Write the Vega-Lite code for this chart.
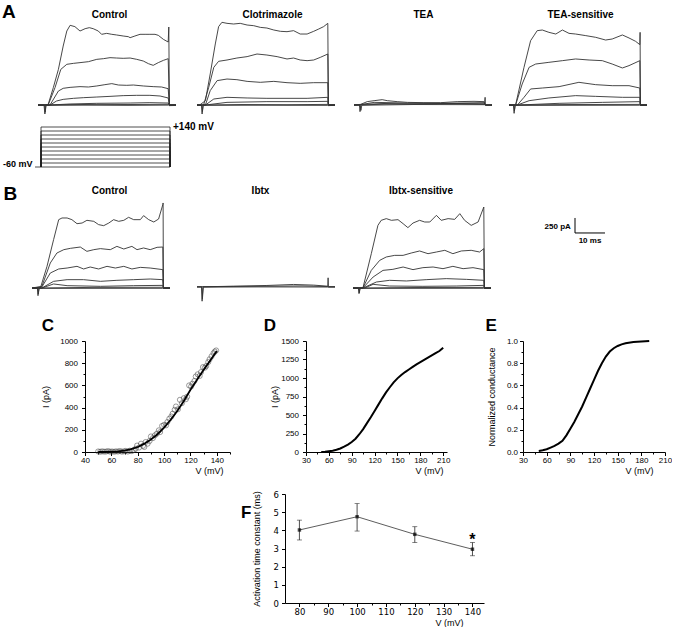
{
"$schema": "https://vega.github.io/schema/vega-lite/v6.json",
"padding": {"left": 2, "top": 2, "right": 0, "bottom": 0},
"spacing": 0,
"config": {
  "view": {"stroke": null},
  "font": "Liberation Sans",
  "title": {"fontSize": 10, "fontWeight": "bold", "color": "black", "font": "Liberation Sans"},
  "axis": {"grid": false, "domainColor": "black", "tickColor": "black", "labelColor": "black", "titleColor": "black", "labelFontSize": 8, "titleFontSize": 9, "titleFontWeight": "normal", "tickSize": 3, "labelPadding": 4, "labelFlush": false, "labelOverlap": false, "labelFont": "Liberation Sans", "titleFont": "Liberation Sans", "domainWidth": 1, "tickWidth": 1}
},
"datasets": {
"AC": [
{"s":1,"t":0,"i":0},{"s":1,"t":2.3,"i":0},{"s":1,"t":3.4,"i":11},{"s":1,"t":5.1,"i":289},{"s":1,"t":6.8,"i":594},{"s":1,"t":8.4,"i":983},{"s":1,"t":9.6,"i":1233},{"s":1,"t":10.7,"i":1328},{"s":1,"t":12.3,"i":1306},{"s":1,"t":14.0,"i":1233},{"s":1,"t":15.7,"i":1272},{"s":1,"t":17.1,"i":1289},{"s":1,"t":18.4,"i":1272},{"s":1,"t":20.1,"i":1233},{"s":1,"t":21.2,"i":1178},{"s":1,"t":22.9,"i":1194},{"s":1,"t":24.6,"i":1178},{"s":1,"t":26.2,"i":1167},{"s":1,"t":28.4,"i":1150},{"s":1,"t":30.1,"i":1139},{"s":1,"t":30.7,"i":1122},{"s":1,"t":32.3,"i":1150},{"s":1,"t":34.0,"i":1178},{"s":1,"t":35.7,"i":1178},{"s":1,"t":37.3,"i":1178},{"s":1,"t":39.0,"i":1178},{"s":1,"t":40.1,"i":1161},{"s":1,"t":41.8,"i":1094},{"s":1,"t":43.4,"i":1050},{"s":1,"t":43.6,"i":1300},{"s":1,"t":43.8,"i":0},{"s":1,"t":46,"i":0},
{"s":2,"t":0,"i":0},{"s":2,"t":3.4,"i":0},{"s":2,"t":5.7,"i":294},{"s":2,"t":7.6,"i":594},{"s":2,"t":9.6,"i":678},{"s":2,"t":11.8,"i":694},{"s":2,"t":14.0,"i":706},{"s":2,"t":16.8,"i":722},{"s":2,"t":19.6,"i":761},{"s":2,"t":21.8,"i":772},{"s":2,"t":24.0,"i":789},{"s":2,"t":26.2,"i":783},{"s":2,"t":28.4,"i":778},{"s":2,"t":30.7,"i":783},{"s":2,"t":32.9,"i":761},{"s":2,"t":35.1,"i":733},{"s":2,"t":36.8,"i":689},{"s":2,"t":38.4,"i":661},{"s":2,"t":40.1,"i":706},{"s":2,"t":41.8,"i":744},{"s":2,"t":43.4,"i":772},{"s":2,"t":43.8,"i":0},{"s":2,"t":46,"i":0},
{"s":3,"t":0,"i":0},{"s":3,"t":4.0,"i":0},{"s":3,"t":6.8,"i":233},{"s":3,"t":8.4,"i":278},{"s":3,"t":10.7,"i":294},{"s":3,"t":14.0,"i":306},{"s":3,"t":16.8,"i":300},{"s":3,"t":19.6,"i":317},{"s":3,"t":22.3,"i":339},{"s":3,"t":24.6,"i":356},{"s":3,"t":26.8,"i":333},{"s":3,"t":29.6,"i":328},{"s":3,"t":31.8,"i":333},{"s":3,"t":35.1,"i":317},{"s":3,"t":38.4,"i":306},{"s":3,"t":41.2,"i":300},{"s":3,"t":43.4,"i":272},{"s":3,"t":43.8,"i":0},{"s":3,"t":46,"i":0},
{"s":4,"t":0,"i":0},{"s":4,"t":4.0,"i":0},{"s":4,"t":6.2,"i":67},{"s":4,"t":8.4,"i":94},{"s":4,"t":11.8,"i":111},{"s":4,"t":15.1,"i":122},{"s":4,"t":19.6,"i":133},{"s":4,"t":24.0,"i":144},{"s":4,"t":28.4,"i":156},{"s":4,"t":32.9,"i":161},{"s":4,"t":37.3,"i":161},{"s":4,"t":40.7,"i":150},{"s":4,"t":43.4,"i":117},{"s":4,"t":43.8,"i":0},{"s":4,"t":46,"i":0},
{"s":5,"t":0,"i":0},{"s":5,"t":4,"i":0},{"s":5,"t":10.7,"i":17},{"s":5,"t":19.6,"i":28},{"s":5,"t":30.7,"i":33},{"s":5,"t":37.3,"i":39},{"s":5,"t":43.4,"i":33},{"s":5,"t":43.8,"i":0},{"s":5,"t":46,"i":0},
{"s":6,"t":0,"i":0},{"s":6,"t":2.0,"i":0},{"s":6,"t":2.3,"i":-150},{"s":6,"t":2.6,"i":0},{"s":6,"t":10,"i":6},{"s":6,"t":20,"i":10},{"s":6,"t":30,"i":8},{"s":6,"t":43.5,"i":12},{"s":6,"t":43.8,"i":0},{"s":6,"t":46,"i":0},
{"s":7,"t":0,"i":-8},{"s":7,"t":2.2,"i":-8},{"s":7,"t":2.4,"i":-120},{"s":7,"t":2.7,"i":-5},{"s":7,"t":15,"i":-3},{"s":7,"t":30,"i":-6},{"s":7,"t":43.5,"i":-2},{"s":7,"t":43.8,"i":-10},{"s":7,"t":46,"i":-8}
],
"AClo": [
{"s":1,"t":0,"i":0},{"s":1,"t":0.9,"i":0},{"s":1,"t":2.8,"i":72},{"s":1,"t":4.4,"i":517},{"s":1,"t":6.1,"i":1017},{"s":1,"t":7.2,"i":1306},{"s":1,"t":8.3,"i":1378},{"s":1,"t":10.0,"i":1361},{"s":1,"t":12.2,"i":1350},{"s":1,"t":14.4,"i":1361},{"s":1,"t":16.7,"i":1333},{"s":1,"t":18.9,"i":1322},{"s":1,"t":21.1,"i":1294},{"s":1,"t":23.3,"i":1283},{"s":1,"t":25.6,"i":1250},{"s":1,"t":27.8,"i":1228},{"s":1,"t":30.0,"i":1222},{"s":1,"t":32.2,"i":1239},{"s":1,"t":34.4,"i":1183},{"s":1,"t":36.7,"i":1183},{"s":1,"t":38.9,"i":1228},{"s":1,"t":40.6,"i":1267},{"s":1,"t":42.2,"i":1306},{"s":1,"t":43.6,"i":1361},{"s":1,"t":43.8,"i":0},{"s":1,"t":46,"i":0},
{"s":2,"t":0,"i":0},{"s":2,"t":2.2,"i":0},{"s":2,"t":3.9,"i":294},{"s":2,"t":5.6,"i":628},{"s":2,"t":7.2,"i":728},{"s":2,"t":10.0,"i":750},{"s":2,"t":13.3,"i":783},{"s":2,"t":16.7,"i":806},{"s":2,"t":20.0,"i":850},{"s":2,"t":23.3,"i":833},{"s":2,"t":26.7,"i":806},{"s":2,"t":30.0,"i":767},{"s":2,"t":32.2,"i":783},{"s":2,"t":34.4,"i":750},{"s":2,"t":36.7,"i":739},{"s":2,"t":38.9,"i":750},{"s":2,"t":41.1,"i":794},{"s":2,"t":43.6,"i":850},{"s":2,"t":43.8,"i":0},{"s":2,"t":46,"i":0},
{"s":3,"t":0,"i":0},{"s":3,"t":2.8,"i":0},{"s":3,"t":4.4,"i":239},{"s":3,"t":6.7,"i":406},{"s":3,"t":10,"i":433},{"s":3,"t":13.3,"i":422},{"s":3,"t":16.7,"i":394},{"s":3,"t":21.1,"i":378},{"s":3,"t":25.6,"i":394},{"s":3,"t":30,"i":372},{"s":3,"t":34.4,"i":361},{"s":3,"t":38.9,"i":372},{"s":3,"t":43.6,"i":372},{"s":3,"t":43.8,"i":0},{"s":3,"t":46,"i":0},
{"s":4,"t":0,"i":0},{"s":4,"t":2.8,"i":0},{"s":4,"t":5.6,"i":100},{"s":4,"t":10,"i":128},{"s":4,"t":16.7,"i":117},{"s":4,"t":23.3,"i":111},{"s":4,"t":30,"i":111},{"s":4,"t":36.7,"i":111},{"s":4,"t":43.6,"i":128},{"s":4,"t":43.8,"i":0},{"s":4,"t":46,"i":0},
{"s":5,"t":0,"i":0},{"s":5,"t":2.8,"i":0},{"s":5,"t":10,"i":44},{"s":5,"t":23.3,"i":56},{"s":5,"t":36.7,"i":56},{"s":5,"t":43.6,"i":61},{"s":5,"t":43.8,"i":0},{"s":5,"t":46,"i":0},
{"s":6,"t":0,"i":0},{"s":6,"t":1.5,"i":0},{"s":6,"t":1.7,"i":-150},{"s":6,"t":2.0,"i":0},{"s":6,"t":15,"i":8},{"s":6,"t":30,"i":5},{"s":6,"t":43.5,"i":10},{"s":6,"t":43.8,"i":0},{"s":6,"t":46,"i":0},
{"s":7,"t":0,"i":-8},{"s":7,"t":1.6,"i":-8},{"s":7,"t":1.8,"i":-110},{"s":7,"t":2.1,"i":-5},{"s":7,"t":20,"i":-4},{"s":7,"t":43.6,"i":-6},{"s":7,"t":43.8,"i":-10},{"s":7,"t":46,"i":-6}
],
"ATEA": [
{"s":1,"t":0,"i":0},{"s":1,"t":2.2,"i":10},{"s":1,"t":4.4,"i":56},{"s":1,"t":6.7,"i":72},{"s":1,"t":9.4,"i":89},{"s":1,"t":11.1,"i":72},{"s":1,"t":14.4,"i":56},{"s":1,"t":17.8,"i":44},{"s":1,"t":23.3,"i":39},{"s":1,"t":28.9,"i":39},{"s":1,"t":34.4,"i":56},{"s":1,"t":40,"i":61},{"s":1,"t":43.3,"i":56},{"s":1,"t":43.8,"i":0},{"s":1,"t":46,"i":0},
{"s":2,"t":0,"i":0},{"s":2,"t":2.2,"i":5},{"s":2,"t":6.7,"i":44},{"s":2,"t":17.8,"i":33},{"s":2,"t":28.9,"i":28},{"s":2,"t":43.3,"i":39},{"s":2,"t":43.8,"i":0},{"s":2,"t":46,"i":0},
{"s":3,"t":0,"i":0},{"s":3,"t":1.8,"i":0},{"s":3,"t":2.0,"i":-111},{"s":3,"t":2.3,"i":0},{"s":3,"t":10,"i":15},{"s":3,"t":25,"i":20},{"s":3,"t":35,"i":25},{"s":3,"t":43.5,"i":15},{"s":3,"t":43.7,"i":128},{"s":3,"t":43.8,"i":0},{"s":3,"t":46,"i":0},
{"s":4,"t":0,"i":-6},{"s":4,"t":2.1,"i":-6},{"s":4,"t":2.3,"i":-90},{"s":4,"t":2.6,"i":-4},{"s":4,"t":20,"i":8},{"s":4,"t":43.5,"i":5},{"s":4,"t":43.8,"i":-5},{"s":4,"t":46,"i":-5},
{"s":5,"t":0,"i":5},{"s":5,"t":10,"i":25},{"s":5,"t":20,"i":15},{"s":5,"t":30,"i":22},{"s":5,"t":43.5,"i":18},{"s":5,"t":43.8,"i":3},{"s":5,"t":46,"i":3}
],
"ATEAs": [
{"s":1,"t":0,"i":0},{"s":1,"t":2.2,"i":0},{"s":1,"t":5.0,"i":628},{"s":1,"t":7.2,"i":1072},{"s":1,"t":9.4,"i":1239},{"s":1,"t":11.1,"i":1250},{"s":1,"t":13.3,"i":1211},{"s":1,"t":15.6,"i":1183},{"s":1,"t":17.8,"i":1250},{"s":1,"t":20,"i":1194},{"s":1,"t":22.2,"i":1183},{"s":1,"t":25.6,"i":1156},{"s":1,"t":28.9,"i":1128},{"s":1,"t":32.2,"i":1083},{"s":1,"t":34.4,"i":1100},{"s":1,"t":37.8,"i":1167},{"s":1,"t":40,"i":1117},{"s":1,"t":42.2,"i":1061},{"s":1,"t":43.6,"i":1006},{"s":1,"t":43.7,"i":1211},{"s":1,"t":43.8,"i":0},{"s":1,"t":46,"i":0},
{"s":2,"t":0,"i":0},{"s":2,"t":2.2,"i":0},{"s":2,"t":4.4,"i":350},{"s":2,"t":6.7,"i":628},{"s":2,"t":8.9,"i":683},{"s":2,"t":13.3,"i":711},{"s":2,"t":17.8,"i":739},{"s":2,"t":22.2,"i":767},{"s":2,"t":26.7,"i":750},{"s":2,"t":31.1,"i":739},{"s":2,"t":34.4,"i":683},{"s":2,"t":37.8,"i":617},{"s":2,"t":40,"i":656},{"s":2,"t":43.6,"i":739},{"s":2,"t":43.8,"i":0},{"s":2,"t":46,"i":0},
{"s":3,"t":0,"i":0},{"s":3,"t":2.8,"i":0},{"s":3,"t":5,"i":128},{"s":3,"t":7.2,"i":267},{"s":3,"t":11.1,"i":283},{"s":3,"t":16.7,"i":306},{"s":3,"t":23.3,"i":378},{"s":3,"t":28.9,"i":339},{"s":3,"t":34.4,"i":322},{"s":3,"t":40,"i":322},{"s":3,"t":43.6,"i":283},{"s":3,"t":43.8,"i":0},{"s":3,"t":46,"i":0},
{"s":4,"t":0,"i":0},{"s":4,"t":2.8,"i":0},{"s":4,"t":6.7,"i":72},{"s":4,"t":13.3,"i":117},{"s":4,"t":22.2,"i":156},{"s":4,"t":28.9,"i":144},{"s":4,"t":37.8,"i":128},{"s":4,"t":43.6,"i":128},{"s":4,"t":43.8,"i":0},{"s":4,"t":46,"i":0},
{"s":5,"t":0,"i":0},{"s":5,"t":3.3,"i":0},{"s":5,"t":16.7,"i":28},{"s":5,"t":31.1,"i":44},{"s":5,"t":43.6,"i":56},{"s":5,"t":43.8,"i":0},{"s":5,"t":46,"i":0},
{"s":6,"t":0,"i":0},{"s":6,"t":1.5,"i":0},{"s":6,"t":1.7,"i":-139},{"s":6,"t":2.0,"i":0},{"s":6,"t":20,"i":8},{"s":6,"t":43.5,"i":10},{"s":6,"t":43.8,"i":0},{"s":6,"t":46,"i":0},
{"s":7,"t":0,"i":-8},{"s":7,"t":1.6,"i":-8},{"s":7,"t":1.8,"i":-100},{"s":7,"t":2.1,"i":-6},{"s":7,"t":43.5,"i":-4},{"s":7,"t":43.8,"i":-8},{"s":7,"t":46,"i":-8}
],
"BC": [
{"s":1,"t":0,"i":0},{"s":1,"t":2.8,"i":0},{"s":1,"t":5,"i":361},{"s":1,"t":7.2,"i":806},{"s":1,"t":8.9,"i":1139},{"s":1,"t":10,"i":1167},{"s":1,"t":11.7,"i":1167},{"s":1,"t":13.3,"i":1139},{"s":1,"t":15,"i":1072},{"s":1,"t":16.7,"i":1083},{"s":1,"t":18.3,"i":1128},{"s":1,"t":20.6,"i":1111},{"s":1,"t":22.2,"i":1056},{"s":1,"t":23.9,"i":1039},{"s":1,"t":25.6,"i":1083},{"s":1,"t":27.2,"i":1139},{"s":1,"t":28.9,"i":1111},{"s":1,"t":30.6,"i":1128},{"s":1,"t":32.2,"i":1178},{"s":1,"t":33.9,"i":1139},{"s":1,"t":36.1,"i":1139},{"s":1,"t":37.2,"i":1206},{"s":1,"t":38.9,"i":1139},{"s":1,"t":40.6,"i":1100},{"s":1,"t":42.2,"i":1150},{"s":1,"t":43.6,"i":1389},{"s":1,"t":43.7,"i":1417},{"s":1,"t":43.8,"i":0},{"s":1,"t":46,"i":0},
{"s":2,"t":0,"i":0},{"s":2,"t":3.3,"i":28},{"s":2,"t":6.1,"i":417},{"s":2,"t":8.3,"i":583},{"s":2,"t":10.6,"i":639},{"s":2,"t":12.8,"i":661},{"s":2,"t":16.1,"i":683},{"s":2,"t":18.3,"i":611},{"s":2,"t":20.6,"i":639},{"s":2,"t":22.8,"i":656},{"s":2,"t":26.1,"i":639},{"s":2,"t":28.3,"i":694},{"s":2,"t":30.6,"i":650},{"s":2,"t":33.3,"i":694},{"s":2,"t":35,"i":639},{"s":2,"t":37.2,"i":667},{"s":2,"t":39.4,"i":639},{"s":2,"t":41.7,"i":678},{"s":2,"t":43.6,"i":683},{"s":2,"t":43.8,"i":0},{"s":2,"t":46,"i":0},
{"s":3,"t":0,"i":0},{"s":3,"t":3.3,"i":17},{"s":3,"t":6.1,"i":250},{"s":3,"t":8.9,"i":317},{"s":3,"t":11.7,"i":333},{"s":3,"t":15,"i":361},{"s":3,"t":17.2,"i":317},{"s":3,"t":19.4,"i":350},{"s":3,"t":22.2,"i":317},{"s":3,"t":25,"i":361},{"s":3,"t":27.8,"i":333},{"s":3,"t":30.6,"i":361},{"s":3,"t":33.3,"i":317},{"s":3,"t":36.1,"i":344},{"s":3,"t":39.4,"i":333},{"s":3,"t":43.6,"i":306},{"s":3,"t":43.8,"i":0},{"s":3,"t":46,"i":0},
{"s":4,"t":0,"i":0},{"s":4,"t":3.3,"i":0},{"s":4,"t":7.2,"i":111},{"s":4,"t":11.7,"i":139},{"s":4,"t":17.2,"i":139},{"s":4,"t":22.8,"i":111},{"s":4,"t":28.3,"i":128},{"s":4,"t":33.9,"i":139},{"s":4,"t":39.4,"i":150},{"s":4,"t":43.6,"i":139},{"s":4,"t":43.8,"i":0},{"s":4,"t":46,"i":0},
{"s":5,"t":0,"i":0},{"s":5,"t":3.3,"i":0},{"s":5,"t":7.2,"i":67},{"s":5,"t":11.7,"i":39},{"s":5,"t":22.8,"i":28},{"s":5,"t":33.9,"i":39},{"s":5,"t":43.6,"i":44},{"s":5,"t":43.8,"i":0},{"s":5,"t":46,"i":0},
{"s":6,"t":0,"i":0},{"s":6,"t":1.8,"i":0},{"s":6,"t":2.0,"i":-128},{"s":6,"t":2.3,"i":0},{"s":6,"t":20,"i":10},{"s":6,"t":43.5,"i":12},{"s":6,"t":43.8,"i":0},{"s":6,"t":46,"i":0},
{"s":7,"t":0,"i":-8},{"s":7,"t":1.9,"i":-8},{"s":7,"t":2.1,"i":-100},{"s":7,"t":2.4,"i":-6},{"s":7,"t":43.5,"i":-5},{"s":7,"t":43.8,"i":-8},{"s":7,"t":46,"i":-8}
],
"BIb": [
{"s":1,"t":0,"i":20},{"s":1,"t":1.5,"i":20},{"s":1,"t":1.7,"i":-220},{"s":1,"t":2.0,"i":20},{"s":1,"t":12.2,"i":30},{"s":1,"t":23.3,"i":42},{"s":1,"t":32.2,"i":59},{"s":1,"t":38.9,"i":48},{"s":1,"t":43.6,"i":30},{"s":1,"t":43.7,"i":170},{"s":1,"t":43.8,"i":20},{"s":1,"t":46,"i":20},
{"s":2,"t":0,"i":22},{"s":2,"t":12,"i":26},{"s":2,"t":25,"i":30},{"s":2,"t":35,"i":35},{"s":2,"t":43.6,"i":24},{"s":2,"t":43.8,"i":22},{"s":2,"t":46,"i":22},
{"s":3,"t":0,"i":14},{"s":3,"t":1.6,"i":14},{"s":3,"t":1.8,"i":-180},{"s":3,"t":2.1,"i":14},{"s":3,"t":20,"i":18},{"s":3,"t":43.6,"i":16},{"s":3,"t":43.8,"i":14},{"s":3,"t":46,"i":14}
],
"BIbs": [
{"s":1,"t":0,"i":0},{"s":1,"t":3.3,"i":0},{"s":1,"t":6.1,"i":572},{"s":1,"t":8.3,"i":1044},{"s":1,"t":9.4,"i":1128},{"s":1,"t":11.1,"i":1156},{"s":1,"t":12.8,"i":1128},{"s":1,"t":15,"i":1139},{"s":1,"t":16.7,"i":1072},{"s":1,"t":18.3,"i":1006},{"s":1,"t":20,"i":1083},{"s":1,"t":22.2,"i":1128},{"s":1,"t":23.9,"i":1100},{"s":1,"t":25.6,"i":1100},{"s":1,"t":27.8,"i":1211},{"s":1,"t":29.4,"i":1128},{"s":1,"t":31.7,"i":1156},{"s":1,"t":33.9,"i":1144},{"s":1,"t":35.6,"i":1239},{"s":1,"t":37.2,"i":1128},{"s":1,"t":39.4,"i":1044},{"s":1,"t":41.7,"i":1100},{"s":1,"t":43.6,"i":1350},{"s":1,"t":43.8,"i":0},{"s":1,"t":46,"i":0},
{"s":2,"t":0,"i":0},{"s":2,"t":3.3,"i":0},{"s":2,"t":6.1,"i":294},{"s":2,"t":8.9,"i":461},{"s":2,"t":11.1,"i":517},{"s":2,"t":13.9,"i":544},{"s":2,"t":16.7,"i":544},{"s":2,"t":19.4,"i":583},{"s":2,"t":22.2,"i":617},{"s":2,"t":25,"i":572},{"s":2,"t":27.8,"i":600},{"s":2,"t":30.6,"i":628},{"s":2,"t":33.3,"i":572},{"s":2,"t":36.1,"i":617},{"s":2,"t":39.4,"i":628},{"s":2,"t":42.2,"i":600},{"s":2,"t":43.6,"i":656},{"s":2,"t":43.8,"i":0},{"s":2,"t":46,"i":0},
{"s":3,"t":0,"i":0},{"s":3,"t":3.3,"i":0},{"s":3,"t":6.7,"i":183},{"s":3,"t":10,"i":294},{"s":3,"t":13.3,"i":311},{"s":3,"t":16.7,"i":350},{"s":3,"t":20,"i":306},{"s":3,"t":23.3,"i":339},{"s":3,"t":26.7,"i":350},{"s":3,"t":30,"i":322},{"s":3,"t":33.3,"i":361},{"s":3,"t":36.7,"i":322},{"s":3,"t":40,"i":339},{"s":3,"t":43.6,"i":306},{"s":3,"t":43.8,"i":0},{"s":3,"t":46,"i":0},
{"s":4,"t":0,"i":0},{"s":4,"t":3.3,"i":0},{"s":4,"t":7.8,"i":100},{"s":4,"t":12.2,"i":128},{"s":4,"t":17.8,"i":117},{"s":4,"t":24.4,"i":139},{"s":4,"t":31.1,"i":156},{"s":4,"t":37.8,"i":144},{"s":4,"t":43.6,"i":128},{"s":4,"t":43.8,"i":0},{"s":4,"t":46,"i":0},
{"s":5,"t":0,"i":0},{"s":5,"t":3.9,"i":0},{"s":5,"t":6.7,"i":61},{"s":5,"t":12.2,"i":33},{"s":5,"t":23.3,"i":28},{"s":5,"t":34.4,"i":33},{"s":5,"t":43.6,"i":44},{"s":5,"t":43.8,"i":0},{"s":5,"t":46,"i":0},
{"s":6,"t":0,"i":0},{"s":6,"t":1.8,"i":0},{"s":6,"t":2.0,"i":-94},{"s":6,"t":2.3,"i":0},{"s":6,"t":20,"i":8},{"s":6,"t":43.5,"i":10},{"s":6,"t":43.8,"i":0},{"s":6,"t":46,"i":0},
{"s":7,"t":0,"i":-8},{"s":7,"t":1.9,"i":-8},{"s":7,"t":2.1,"i":-80},{"s":7,"t":2.4,"i":-6},{"s":7,"t":43.5,"i":-5},{"s":7,"t":43.8,"i":-8},{"s":7,"t":46,"i":-8}
],
"proto": [
{"v":-60,"t":-1,"mv":-60},{"v":-60,"t":44,"mv":-60},
{"v":-40,"t":1,"mv":-60},{"v":-40,"t":1,"mv":-40},{"v":-40,"t":44,"mv":-40},{"v":-40,"t":44,"mv":-60},
{"v":-20,"t":1,"mv":-60},{"v":-20,"t":1,"mv":-20},{"v":-20,"t":44,"mv":-20},{"v":-20,"t":44,"mv":-60},
{"v":0,"t":1,"mv":-60},{"v":0,"t":1,"mv":0},{"v":0,"t":44,"mv":0},{"v":0,"t":44,"mv":-60},
{"v":20,"t":1,"mv":-60},{"v":20,"t":1,"mv":20},{"v":20,"t":44,"mv":20},{"v":20,"t":44,"mv":-60},
{"v":40,"t":1,"mv":-60},{"v":40,"t":1,"mv":40},{"v":40,"t":44,"mv":40},{"v":40,"t":44,"mv":-60},
{"v":60,"t":1,"mv":-60},{"v":60,"t":1,"mv":60},{"v":60,"t":44,"mv":60},{"v":60,"t":44,"mv":-60},
{"v":80,"t":1,"mv":-60},{"v":80,"t":1,"mv":80},{"v":80,"t":44,"mv":80},{"v":80,"t":44,"mv":-60},
{"v":100,"t":1,"mv":-60},{"v":100,"t":1,"mv":100},{"v":100,"t":44,"mv":100},{"v":100,"t":44,"mv":-60},
{"v":120,"t":1,"mv":-60},{"v":120,"t":1,"mv":120},{"v":120,"t":44,"mv":120},{"v":120,"t":44,"mv":-60},
{"v":140,"t":1,"mv":-60},{"v":140,"t":1,"mv":140},{"v":140,"t":44,"mv":140},{"v":140,"t":44,"mv":-60}
],
"C": [
{"v":50,"i":5},{"v":51.5,"i":2},{"v":53,"i":6},{"v":54.5,"i":3},{"v":56,"i":4},{"v":57.5,"i":8},{"v":59,"i":3},{"v":60.5,"i":5},{"v":62,"i":2},{"v":63.5,"i":6},{"v":65,"i":4},{"v":66.5,"i":9},{"v":68,"i":3},{"v":69.5,"i":6},{"v":71,"i":10},{"v":72.5,"i":4},{"v":74,"i":12},{"v":75.5,"i":8},{"v":77,"i":18},{"v":78.5,"i":30},{"v":79.5,"i":58},{"v":81,"i":40},{"v":82.5,"i":75},{"v":84,"i":55},{"v":85,"i":45},{"v":86,"i":90},{"v":87.5,"i":75},{"v":89,"i":100},{"v":90,"i":140},{"v":91.5,"i":125},{"v":93,"i":150},{"v":94.5,"i":165},{"v":96,"i":195},{"v":97,"i":180},{"v":98.5,"i":235},{"v":100,"i":245},{"v":101.5,"i":240},{"v":102.5,"i":270},{"v":104,"i":300},{"v":105.5,"i":320},{"v":106.5,"i":345},{"v":108,"i":380},{"v":109,"i":410},{"v":110.5,"i":385},{"v":112,"i":470},{"v":113.5,"i":440},{"v":115,"i":485},{"v":116.5,"i":475},{"v":117.5,"i":498},{"v":119,"i":600},{"v":120.5,"i":590},{"v":121.5,"i":615},{"v":123,"i":640},{"v":124,"i":680},{"v":125.5,"i":700},{"v":127,"i":685},{"v":128,"i":720},{"v":129.5,"i":765},{"v":131,"i":760},{"v":132,"i":775},{"v":133.5,"i":810},{"v":134.5,"i":835},{"v":136,"i":862},{"v":137.5,"i":890},{"v":138.5,"i":905},{"v":139.5,"i":915}
],
"Cfit": [
{"v":50,"i":0},{"v":55,"i":1},{"v":60,"i":3},{"v":65,"i":6},{"v":70,"i":12},{"v":75,"i":25},{"v":80,"i":45},{"v":85,"i":75},{"v":90,"i":112},{"v":95,"i":160},{"v":100,"i":220},{"v":105,"i":290},{"v":110,"i":370},{"v":115,"i":460},{"v":120,"i":560},{"v":125,"i":650},{"v":130,"i":740},{"v":135,"i":825},{"v":140,"i":910}
],
"D": [
{"v":50,"i":0},{"v":55,"i":3},{"v":60,"i":10},{"v":65,"i":18},{"v":70,"i":30},{"v":75,"i":48},{"v":80,"i":72},{"v":85,"i":100},{"v":90,"i":135},{"v":95,"i":180},{"v":100,"i":240},{"v":105,"i":310},{"v":110,"i":390},{"v":115,"i":470},{"v":120,"i":555},{"v":125,"i":640},{"v":130,"i":725},{"v":135,"i":805},{"v":140,"i":875},{"v":145,"i":940},{"v":150,"i":995},{"v":155,"i":1040},{"v":160,"i":1080},{"v":165,"i":1115},{"v":170,"i":1150},{"v":175,"i":1185},{"v":180,"i":1215},{"v":185,"i":1245},{"v":190,"i":1275},{"v":195,"i":1305},{"v":200,"i":1335},{"v":205,"i":1365},{"v":210,"i":1410}
],
"E": [
{"v":50,"g":0.01},{"v":55,"g":0.015},{"v":60,"g":0.025},{"v":65,"g":0.04},{"v":70,"g":0.055},{"v":75,"g":0.075},{"v":80,"g":0.1},{"v":85,"g":0.15},{"v":90,"g":0.21},{"v":95,"g":0.27},{"v":100,"g":0.34},{"v":105,"g":0.41},{"v":110,"g":0.49},{"v":115,"g":0.57},{"v":120,"g":0.65},{"v":125,"g":0.73},{"v":130,"g":0.8},{"v":135,"g":0.86},{"v":140,"g":0.905},{"v":145,"g":0.935},{"v":150,"g":0.955},{"v":155,"g":0.97},{"v":160,"g":0.98},{"v":170,"g":0.99},{"v":180,"g":0.995},{"v":190,"g":1.0}
],
"F": [
{"v":80,"m":4.02,"lo":3.47,"hi":4.56},{"v":100,"m":4.75,"lo":3.96,"hi":5.47},{"v":120,"m":3.78,"lo":3.33,"hi":4.2},{"v":140,"m":2.96,"lo":2.6,"hi":3.33}
],
"Fstar": [{"v":140,"m":3.65,"label":"*"}]
},
"vconcat": [
{
"hconcat": [
{"width": 17, "height": 104, "data": {"values": [{}]}, "mark": {"type": "point", "opacity": 0, "size": 0},
 "title": {"text": "A", "anchor": "start", "fontSize": 19, "offset": -3.8}},
{"width": 141, "height": 99, "title": {"text": "Control", "offset": -2, "dx": 4}, "data": {"name": "AC"},
 "mark": {"type": "line", "color": "#333", "strokeWidth": 0.9},
 "encoding": {"x": {"field": "t", "type": "quantitative", "scale": {"domain": [-1, 46], "nice": false}, "axis": null},
  "y": {"field": "i", "type": "quantitative", "scale": {"domain": [-200, 1450], "nice": false}, "axis": null},
  "detail": {"field": "s"}, "order": {"value": null}}},
{"width": 143, "height": 99, "title": {"text": "Clotrimazole", "offset": -2, "dx": 9}, "data": {"name": "AClo"},
 "mark": {"type": "line", "color": "#333", "strokeWidth": 0.9},
 "encoding": {"x": {"field": "t", "type": "quantitative", "scale": {"domain": [-1.67, 46], "nice": false}, "axis": null},
  "y": {"field": "i", "type": "quantitative", "scale": {"domain": [-200, 1450], "nice": false}, "axis": null},
  "detail": {"field": "s"}, "order": {"value": null}}},
{"width": 139, "height": 99, "title": {"text": "TEA", "offset": -2, "dx": 3}, "data": {"name": "ATEA"},
 "mark": {"type": "line", "color": "#333", "strokeWidth": 0.9},
 "encoding": {"x": {"field": "t", "type": "quantitative", "scale": {"domain": [-1, 45.33], "nice": false}, "axis": null},
  "y": {"field": "i", "type": "quantitative", "scale": {"domain": [-200, 1450], "nice": false}, "axis": null},
  "detail": {"field": "s"}, "order": {"value": null}}},
{"width": 141, "height": 99, "title": {"text": "TEA-sensitive", "offset": -2, "dx": 4}, "data": {"name": "ATEAs"},
 "mark": {"type": "line", "color": "#333", "strokeWidth": 0.9},
 "encoding": {"x": {"field": "t", "type": "quantitative", "scale": {"domain": [-1, 46], "nice": false}, "axis": null},
  "y": {"field": "i", "type": "quantitative", "scale": {"domain": [-200, 1450], "nice": false}, "axis": null},
  "detail": {"field": "s"}, "order": {"value": null}}}
],
"spacing": 16, "bounds": "flush"
},
{
"hconcat": [
{"width": 1, "height": 57, "data": {"values": [{}]}, "mark": {"type": "point", "opacity": 0, "size": 0}},
{"width": 141, "height": 40,
 "layer": [
  {"data": {"name": "proto"}, "mark": {"type": "line", "color": "#222", "strokeWidth": 0.8},
   "encoding": {"x": {"field": "t", "type": "quantitative", "scale": {"domain": [-1, 46], "nice": false}, "axis": null},
    "y": {"field": "mv", "type": "quantitative", "scale": {"domain": [-60, 140], "nice": false}, "axis": null},
    "detail": {"field": "v"}, "order": {"value": null}}},
  {"data": {"values": [{"t": 45, "mv": 140, "label": "+140 mV"}]},
   "mark": {"type": "text", "align": "left", "baseline": "middle", "fontSize": 10, "fontWeight": "bold", "color": "black"},
   "encoding": {"x": {"field": "t", "type": "quantitative"}, "y": {"field": "mv", "type": "quantitative"}, "text": {"field": "label"}}},
  {"data": {"values": [{"t": -1.8, "mv": -47, "label": "-60 mV"}]},
   "mark": {"type": "text", "align": "right", "baseline": "middle", "fontSize": 9, "fontWeight": "bold", "color": "black"},
   "encoding": {"x": {"field": "t", "type": "quantitative"}, "y": {"field": "mv", "type": "quantitative"}, "text": {"field": "label"}}}
 ]}
],
"spacing": 32, "bounds": "flush"
},
{
"hconcat": [
{"width": 11, "height": 119, "data": {"values": [{}]}, "mark": {"type": "point", "opacity": 0, "size": 0},
 "title": {"text": "B", "anchor": "start", "fontSize": 19, "offset": -5.8, "dx": 1.5}},
{"width": 141, "height": 105, "title": {"text": "Control", "offset": 2, "dx": 10}, "data": {"name": "BC"},
 "mark": {"type": "line", "color": "#333", "strokeWidth": 0.9},
 "encoding": {"x": {"field": "t", "type": "quantitative", "scale": {"domain": [-1, 46], "nice": false}, "axis": null},
  "y": {"field": "i", "type": "quantitative", "scale": {"domain": [-250, 1500], "nice": false}, "axis": null},
  "detail": {"field": "s"}, "order": {"value": null}}},
{"width": 149, "height": 105, "title": {"text": "Ibtx", "offset": 2}, "data": {"name": "BIb"},
 "mark": {"type": "line", "color": "#333", "strokeWidth": 0.9},
 "encoding": {"x": {"field": "t", "type": "quantitative", "scale": {"domain": [-3.67, 46], "nice": false}, "axis": null},
  "y": {"field": "i", "type": "quantitative", "scale": {"domain": [-250, 1500], "nice": false}, "axis": null},
  "detail": {"field": "s"}, "order": {"value": null}}},
{"width": 140, "height": 105, "title": {"text": "Ibtx-sensitive", "offset": 2}, "data": {"name": "BIbs"},
 "mark": {"type": "line", "color": "#333", "strokeWidth": 0.9},
 "encoding": {"x": {"field": "t", "type": "quantitative", "scale": {"domain": [-0.67, 46], "nice": false}, "axis": null},
  "y": {"field": "i", "type": "quantitative", "scale": {"domain": [-250, 1500], "nice": false}, "axis": null},
  "detail": {"field": "s"}, "order": {"value": null}}},
{"width": 98, "height": 105,
 "layer": [
  {"data": {"values": [{"t": 0, "t2": 0, "i": 917, "i2": 1167}, {"t": 0, "t2": 10, "i": 917, "i2": 917}]},
   "mark": {"type": "rule", "color": "black", "strokeWidth": 1},
   "encoding": {"x": {"field": "t", "type": "quantitative", "scale": {"domain": [-22.67, 10], "nice": false}, "axis": null},
    "x2": {"field": "t2"},
    "y": {"field": "i", "type": "quantitative", "scale": {"domain": [-250, 1500], "nice": false}, "axis": null},
    "y2": {"field": "i2"}}},
  {"data": {"values": [{"t": -1.4, "i": 1017, "label": "250 pA"}]},
   "mark": {"type": "text", "align": "right", "baseline": "middle", "fontSize": 8, "fontWeight": "bold", "color": "black"},
   "encoding": {"x": {"field": "t", "type": "quantitative"}, "y": {"field": "i", "type": "quantitative"}, "text": {"field": "label"}}},
  {"data": {"values": [{"t": 5, "i": 783, "label": "10 ms"}]},
   "mark": {"type": "text", "align": "center", "baseline": "middle", "fontSize": 8, "fontWeight": "bold", "color": "black"},
   "encoding": {"x": {"field": "t", "type": "quantitative"}, "y": {"field": "i", "type": "quantitative"}, "text": {"field": "label"}}}
 ]}
],
"spacing": 16, "bounds": "flush"
},
{
"hconcat": [
{"width": 7, "height": 149, "data": {"values": [{}]}, "mark": {"type": "point", "opacity": 0, "size": 0}},
{"width": 145, "height": 111,
 "title": {"text": "C", "anchor": "start", "fontSize": 17, "offset": 1.6, "frame": "bounds"},
 "layer": [
  {"data": {"name": "C"}, "mark": {"type": "point", "shape": "circle", "filled": false, "color": "#333", "size": 26, "strokeWidth": 0.7},
   "encoding": {"x": {"field": "v", "type": "quantitative", "title": "V (mV)", "scale": {"domain": [40, 150], "nice": false},
      "axis": {"title": "V (mV)", "values": [40,50,60,70,80,90,100,110,120,130,140,150], "format": "d", "labelExpr": "datum.value % 20 == 0 ? datum.label : ''", "labelOverlap": false, "tickSize": {"condition": {"test": "datum.value % 20 != 0", "value": 2}, "value": 3.5}, "labelPadding": 1, "titleX": 138, "titleAlign": "right", "titlePadding": 2}},
    "y": {"field": "i", "type": "quantitative", "title": "I (pA)", "scale": {"domain": [0, 1000], "nice": false},
      "axis": {"title": "I (pA)", "values": [0,100,200,300,400,500,600,700,800,900,1000], "format": "d", "labelExpr": "datum.value % 200 == 0 ? datum.label : ''", "labelOverlap": false, "tickSize": {"condition": {"test": "datum.value % 200 != 0", "value": 2}, "value": 3.5}, "labelPadding": 4, "titlePadding": 9}}}},
  {"data": {"name": "Cfit"}, "mark": {"type": "line", "color": "black", "strokeWidth": 1.8},
   "encoding": {"x": {"field": "v", "type": "quantitative", "title": "V (mV)", "scale": {"domain": [40, 150], "nice": false},
      "axis": {"title": "V (mV)", "values": [40,50,60,70,80,90,100,110,120,130,140,150], "format": "d", "labelExpr": "datum.value % 20 == 0 ? datum.label : ''", "labelOverlap": false, "tickSize": {"condition": {"test": "datum.value % 20 != 0", "value": 2}, "value": 3.5}, "labelPadding": 1, "titleX": 138, "titleAlign": "right", "titlePadding": 2}},
    "y": {"field": "i", "type": "quantitative", "title": "I (pA)", "scale": {"domain": [0, 1000], "nice": false},
      "axis": {"title": "I (pA)", "values": [0,100,200,300,400,500,600,700,800,900,1000], "format": "d", "labelExpr": "datum.value % 200 == 0 ? datum.label : ''", "labelOverlap": false, "tickSize": {"condition": {"test": "datum.value % 200 != 0", "value": 2}, "value": 3.5}, "labelPadding": 4, "titlePadding": 9}}}}
 ]},
{"width": 141, "height": 111, "data": {"name": "D"},
 "title": {"text": "D", "anchor": "start", "fontSize": 17, "offset": 1.6, "frame": "bounds", "dx": -7},
 "mark": {"type": "line", "color": "black", "strokeWidth": 2},
 "encoding": {"x": {"field": "v", "type": "quantitative", "scale": {"domain": [30, 215], "nice": false},
   "axis": {"title": "V (mV)", "values": [30,45,60,75,90,105,120,135,150,165,180,195,210], "format": "d", "labelExpr": "datum.value % 30 == 0 ? datum.label : ''", "labelOverlap": false, "tickSize": {"condition": {"test": "datum.value % 30 != 0", "value": 2}, "value": 3.5}, "labelPadding": 1, "titleX": 137, "titleAlign": "right", "titlePadding": 2}},
  "y": {"field": "i", "type": "quantitative", "scale": {"domain": [0, 1500], "nice": false},
   "axis": {"title": "I (pA)", "values": [0,125,250,375,500,625,750,875,1000,1125,1250,1375,1500], "format": "d", "labelExpr": "datum.value % 250 == 0 ? datum.label : ''", "labelOverlap": false, "tickSize": {"condition": {"test": "datum.value % 250 != 0", "value": 2}, "value": 3.5}, "labelPadding": 4, "titlePadding": 1}}}},
{"width": 142, "height": 111, "data": {"name": "E"},
 "title": {"text": "E", "anchor": "start", "fontSize": 17, "offset": 1.6, "frame": "bounds", "dx": -2},
 "mark": {"type": "line", "color": "black", "strokeWidth": 2},
 "encoding": {"x": {"field": "v", "type": "quantitative", "scale": {"domain": [30, 210], "nice": false},
   "axis": {"title": "V (mV)", "values": [30,45,60,75,90,105,120,135,150,165,180,195,210], "format": "d", "labelExpr": "datum.value % 30 == 0 ? datum.label : ''", "labelOverlap": false, "tickSize": {"condition": {"test": "datum.value % 30 != 0", "value": 2}, "value": 3.5}, "labelPadding": 1, "titleX": 130, "titleAlign": "right", "titlePadding": 2}},
  "y": {"field": "g", "type": "quantitative", "scale": {"domain": [0, 1], "nice": false},
   "axis": {"title": "Normalized conductance", "values": [0,0.1,0.2,0.3,0.4,0.5,0.6,0.7,0.8,0.9,1], "format": ".1f", "labelExpr": "round(datum.value*10) % 2 == 0 ? datum.label : ''", "labelOverlap": false, "tickSize": {"condition": {"test": "round(datum.value*10) % 2 != 0", "value": 2}, "value": 3.5}, "labelPadding": 2, "titlePadding": 10}}}}
],
"spacing": 76, "bounds": "flush"
},
{
"hconcat": [
{"width": 1, "height": 100, "data": {"values": [{}]}, "mark": {"type": "point", "opacity": 0, "size": 0}},
{"width": 199, "height": 109,
 "title": {"text": "F", "anchor": "start", "fontSize": 17, "offset": -32, "frame": "bounds", "dx": -11},
 "layer": [
  {"data": {"name": "F"}, "mark": {"type": "line", "color": "#333", "strokeWidth": 0.8},
   "encoding": {"x": {"field": "v", "type": "quantitative", "title": "V (mV)", "scale": {"domain": [75, 144], "nice": false},
      "axis": {"title": "V (mV)", "values": [80,85,90,95,100,105,110,115,120,125,130,135,140], "format": "d", "labelExpr": "datum.value % 10 == 0 ? datum.label : ''", "labelOverlap": false, "tickSize": {"condition": {"test": "datum.value % 10 != 0", "value": 2}, "value": 3.5}, "labelPadding": 1, "titleX": 178, "titleAlign": "right", "titlePadding": 2, "labelFont": "DejaVu Sans", "labelFontSize": 8.5}},
    "y": {"field": "m", "type": "quantitative", "title": "Activation time constant (ms)", "scale": {"domain": [0, 6], "nice": false},
      "axis": {"title": "Activation time constant (ms)", "values": [0,0.5,1,1.5,2,2.5,3,3.5,4,4.5,5,5.5,6], "format": "d", "labelExpr": "datum.value % 1 == 0 ? datum.label : ''", "labelOverlap": false, "tickSize": {"condition": {"test": "datum.value % 1 != 0", "value": 2}, "value": 3.5}, "labelPadding": 3, "titlePadding": 12, "titleFontSize": 9, "labelFont": "DejaVu Sans", "labelFontSize": 8.5}}}},
  {"data": {"name": "F"}, "mark": {"type": "errorbar", "ticks": true, "size": 5, "color": "#222", "thickness": 0.8},
   "encoding": {"x": {"field": "v", "type": "quantitative", "title": "V (mV)", "scale": {"domain": [75, 144], "nice": false},
      "axis": {"title": "V (mV)", "values": [80,85,90,95,100,105,110,115,120,125,130,135,140], "format": "d", "labelExpr": "datum.value % 10 == 0 ? datum.label : ''", "labelOverlap": false, "tickSize": {"condition": {"test": "datum.value % 10 != 0", "value": 2}, "value": 3.5}, "labelPadding": 1, "titleX": 178, "titleAlign": "right", "titlePadding": 2, "labelFont": "DejaVu Sans", "labelFontSize": 8.5}},
    "y": {"field": "lo", "type": "quantitative", "title": "Activation time constant (ms)", "scale": {"domain": [0, 6], "nice": false},
      "axis": {"title": "Activation time constant (ms)", "values": [0,0.5,1,1.5,2,2.5,3,3.5,4,4.5,5,5.5,6], "format": "d", "labelExpr": "datum.value % 1 == 0 ? datum.label : ''", "labelOverlap": false, "tickSize": {"condition": {"test": "datum.value % 1 != 0", "value": 2}, "value": 3.5}, "labelPadding": 3, "titlePadding": 12, "titleFontSize": 9, "labelFont": "DejaVu Sans", "labelFontSize": 8.5}},
    "y2": {"field": "hi"}}},
  {"data": {"name": "F"}, "mark": {"type": "square", "filled": true, "color": "black", "size": 12},
   "encoding": {"x": {"field": "v", "type": "quantitative", "title": "V (mV)", "scale": {"domain": [75, 144], "nice": false},
      "axis": {"title": "V (mV)", "values": [80,85,90,95,100,105,110,115,120,125,130,135,140], "format": "d", "labelExpr": "datum.value % 10 == 0 ? datum.label : ''", "labelOverlap": false, "tickSize": {"condition": {"test": "datum.value % 10 != 0", "value": 2}, "value": 3.5}, "labelPadding": 1, "titleX": 178, "titleAlign": "right", "titlePadding": 2, "labelFont": "DejaVu Sans", "labelFontSize": 8.5}},
    "y": {"field": "m", "type": "quantitative", "title": "Activation time constant (ms)", "scale": {"domain": [0, 6], "nice": false},
      "axis": {"title": "Activation time constant (ms)", "values": [0,0.5,1,1.5,2,2.5,3,3.5,4,4.5,5,5.5,6], "format": "d", "labelExpr": "datum.value % 1 == 0 ? datum.label : ''", "labelOverlap": false, "tickSize": {"condition": {"test": "datum.value % 1 != 0", "value": 2}, "value": 3.5}, "labelPadding": 3, "titlePadding": 12, "titleFontSize": 9, "labelFont": "DejaVu Sans", "labelFontSize": 8.5}}}},
  {"data": {"name": "Fstar"},
   "mark": {"type": "text", "fontSize": 16, "fontWeight": "bold", "baseline": "middle", "color": "black", "dy": 3},
   "encoding": {"x": {"field": "v", "type": "quantitative", "title": "V (mV)", "scale": {"domain": [75, 144], "nice": false},
      "axis": {"title": "V (mV)", "values": [80,85,90,95,100,105,110,115,120,125,130,135,140], "format": "d", "labelExpr": "datum.value % 10 == 0 ? datum.label : ''", "labelOverlap": false, "tickSize": {"condition": {"test": "datum.value % 10 != 0", "value": 2}, "value": 3.5}, "labelPadding": 1, "titleX": 178, "titleAlign": "right", "titlePadding": 2, "labelFont": "DejaVu Sans", "labelFontSize": 8.5}},
    "y": {"field": "m", "type": "quantitative", "title": "Activation time constant (ms)", "scale": {"domain": [0, 6], "nice": false},
      "axis": {"title": "Activation time constant (ms)", "values": [0,0.5,1,1.5,2,2.5,3,3.5,4,4.5,5,5.5,6], "format": "d", "labelExpr": "datum.value % 1 == 0 ? datum.label : ''", "labelOverlap": false, "tickSize": {"condition": {"test": "datum.value % 1 != 0", "value": 2}, "value": 3.5}, "labelPadding": 3, "titlePadding": 12, "titleFontSize": 9, "labelFont": "DejaVu Sans", "labelFontSize": 8.5}},
    "text": {"field": "label"}}}
 ]}
],
"spacing": 282, "bounds": "flush"
}
]
}
